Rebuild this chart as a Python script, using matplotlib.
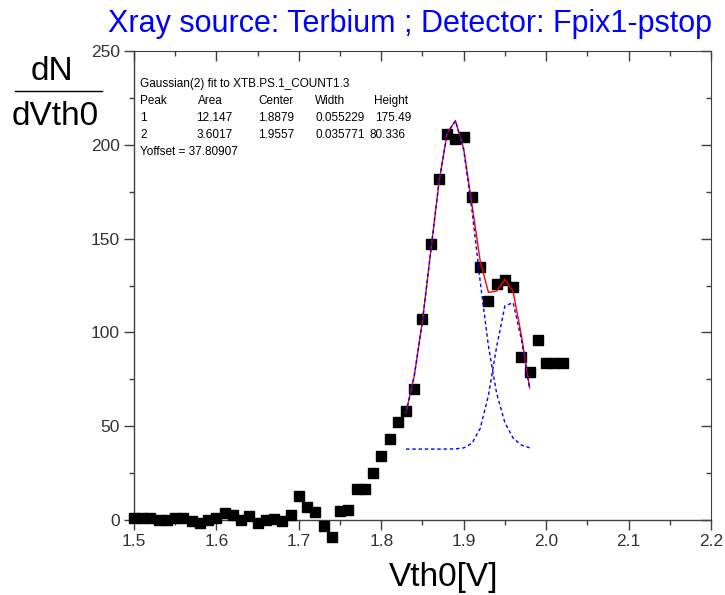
import matplotlib
matplotlib.use("Agg")
import numpy as np
import matplotlib.pyplot as plt
from matplotlib.ticker import MultipleLocator
from matplotlib.lines import Line2D

# measured points: dN/dVth0 vs Vth0
vth0 = [1.50, 1.51, 1.52, 1.53, 1.54, 1.55, 1.56, 1.57, 1.58, 1.59,
        1.60, 1.61, 1.62, 1.63, 1.64, 1.65, 1.66, 1.67, 1.68, 1.69,
        1.70, 1.71, 1.72, 1.73, 1.74, 1.75, 1.76, 1.77, 1.78, 1.79,
        1.80, 1.81, 1.82, 1.83, 1.84, 1.85, 1.86, 1.87, 1.88, 1.89,
        1.90, 1.91, 1.92, 1.93, 1.94, 1.95, 1.96, 1.97, 1.98, 1.99,
        2.00, 2.01, 2.02]
dn = [1, 1, 1, 0, 0, 1, 1, -0.5, -1.5, 0,
      1, 3.5, 2.5, 0, 2, -1.5, 0, 0.5, -0.5, 2.5,
      13, 7, 4, -3, -9, 5, 5.5, 16.5, 16.5, 25,
      34, 43, 52, 58, 70, 107, 147, 182, 206, 203,
      204, 172, 135, 117, 126, 128, 124, 87, 79, 96,
      83.5, 83.5, 83.5]

# gaussian(2) fit, sampled at 0.01 steps
fit_x = [1.83, 1.84, 1.85, 1.86, 1.87, 1.88, 1.89, 1.90,
         1.91, 1.92, 1.93, 1.94, 1.95, 1.96, 1.97, 1.98]
y_offset = 37.80907
peak1 = [19.48, 38.99, 68.43, 105.34, 142.23, 168.45, 174.98, 159.43,
         127.40, 89.29, 54.90, 29.60, 14.00, 5.81, 2.11, 0.67]
peak2 = [0.0, 0.0, 0.0, 0.0, 0.0, 0.01, 0.09, 0.63,
         3.07, 10.96, 28.61, 54.65, 76.36, 78.05, 58.36, 31.92]

fit_title = "Gaussian(2) fit to XTB.PS.1_COUNT1.3"
table_rows = [["Peak", "Area", "Center", "Width", "Height"],
              ["1", "12.147", "1.8879", "0.055229", "175.49"],
              ["2", "3.6017", "1.9557", "0.035771", "80.336"]]

FONT = ["Liberation Sans", "DejaVu Sans"]
plt.rcParams["font.family"] = FONT
W, H = 725, 595
AX_COL = "#404040"
LBL_COL = "#333333"


def fx(px):
    return px / W


def fy(py):
    return 1 - py / H


def main():
    fig = plt.figure(figsize=(W / 100, H / 100), dpi=100)
    ax = fig.add_axes([fx(134), fy(520), (711 - 134) / W, (520 - 51) / H])

    ax.plot(vth0, dn, "s", color="black", ms=7.4, clip_on=False, zorder=3)

    p1 = np.array(peak1) + y_offset
    p2 = np.array(peak2) + y_offset
    total = y_offset + np.array(peak1) + np.array(peak2)
    ax.plot(fit_x, total, color="red", lw=1.0, zorder=4)
    ax.plot(fit_x, p1, color="blue", lw=1.0, ls=(0, (2.5, 2)), zorder=5)
    ax.plot(fit_x, p2, color="blue", lw=1.0, ls=(0, (2.5, 2)), zorder=5)

    ax.set_xlim(1.5, 2.2)
    ax.set_ylim(0, 250)
    ax.xaxis.set_major_locator(MultipleLocator(0.1))
    ax.xaxis.set_minor_locator(MultipleLocator(0.05))
    ax.yaxis.set_major_locator(MultipleLocator(50))
    ax.yaxis.set_minor_locator(MultipleLocator(25))
    ax.tick_params(which="both", direction="out", color=AX_COL, width=1,
                   labelsize=12.5, labelcolor=LBL_COL, top=False, right=False)
    ax.tick_params(which="major", length=7, pad=3)
    ax.tick_params(which="minor", length=3.5)
    for s in ["top", "right"]:
        ax.spines[s].set_visible(False)
    for s in ["left", "bottom"]:
        ax.spines[s].set_color(AX_COL)
        ax.spines[s].set_linewidth(1)

    # inward ticks on top and right
    secx = ax.secondary_xaxis("top")
    secx.xaxis.set_major_locator(MultipleLocator(0.1))
    secx.xaxis.set_minor_locator(MultipleLocator(0.05))
    secx.tick_params(which="both", direction="in", color=AX_COL, width=1, labeltop=False)
    secx.tick_params(which="major", length=7)
    secx.tick_params(which="minor", length=3.5)
    secx.spines["top"].set_color(AX_COL)
    secy = ax.secondary_yaxis("right")
    secy.yaxis.set_major_locator(MultipleLocator(50))
    secy.yaxis.set_minor_locator(MultipleLocator(25))
    secy.tick_params(which="both", direction="in", color=AX_COL, width=1, labelright=False)
    secy.tick_params(which="major", length=7)
    secy.tick_params(which="minor", length=3.5)
    secy.spines["right"].set_color(AX_COL)

    # titles and labels
    fig.text(fx(712), fy(24), "Xray source: Terbium ; Detector: Fpix1-pstop",
             ha="right", va="center", color="blue", fontsize=22)
    fig.text(fx(444), fy(586), "Vth0[V]", ha="center", va="baseline", fontsize=24)
    fig.text(fx(52), fy(80), "dN", ha="center", va="baseline", fontsize=24)
    fig.add_artist(Line2D([fx(15), fx(102)], [fy(91), fy(91)], color="black", lw=1.0))
    fig.text(fx(55), fy(125), "dVth0", ha="center", va="baseline", fontsize=24)

    # fit parameter box
    fig.text(fx(140), fy(87), fit_title, fontsize=8.5, va="baseline")
    col_x = [[140, 198, 258, 315, 374],
             [140, 196, 258, 315, 375],
             [140, 197, 258, 315, 369]]
    row_y = [104, 121, 138]
    for r, row in enumerate(table_rows):
        for c, txt in enumerate(row):
            fig.text(fx(col_x[r][c]), fy(row_y[r]), txt, fontsize=8.5, va="baseline")
    fig.text(fx(140), fy(155), "Yoffset = %.5f" % y_offset, fontsize=8.5, va="baseline")

    fig.savefig("out.png", dpi=100)


if __name__ == "__main__":
    main()
